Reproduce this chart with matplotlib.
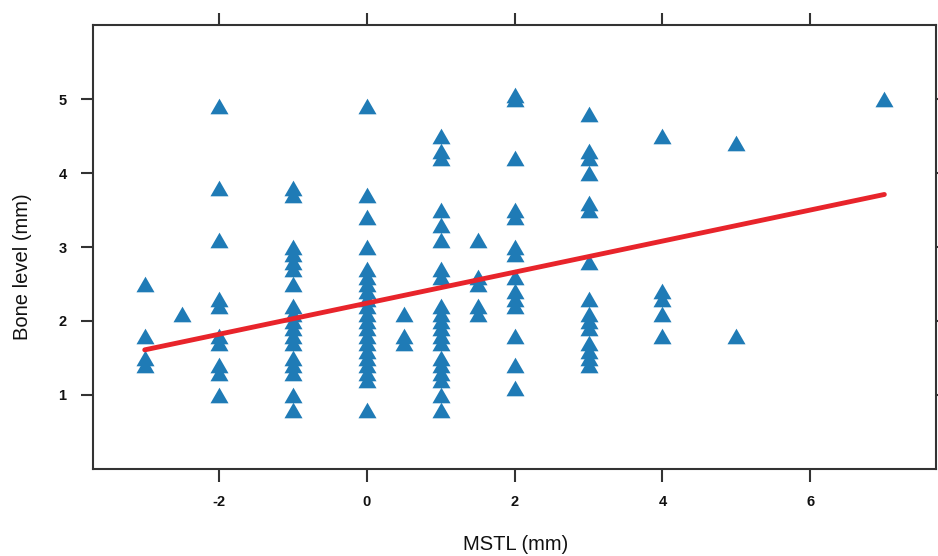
import numpy as np
import matplotlib
matplotlib.use("Agg")
import matplotlib.pyplot as plt
from matplotlib.path import Path

# MSTL values (mm) and the bone level readings (mm) found at each of them
mstl_levels = [-3, -2.5, -2, -1, 0, 0.5, 1, 1.5, 2, 3, 4, 5, 7]
bone_by_mstl = [
    [2.5, 1.8, 1.5, 1.4],
    [2.1],
    [4.9, 3.8, 3.1, 2.3, 2.2, 1.8, 1.7, 1.4, 1.3, 1.0],
    [3.8, 3.7, 3.0, 2.9, 2.8, 2.7, 2.5, 2.2, 2.1, 2.0, 1.9, 1.8, 1.7,
     1.5, 1.4, 1.3, 1.0, 0.8],
    [4.9, 3.7, 3.4, 3.0, 2.7, 2.6, 2.5, 2.4, 2.3, 2.2, 2.1, 2.0, 1.9,
     1.8, 1.7, 1.6, 1.5, 1.4, 1.3, 1.2, 0.8],
    [2.1, 1.8, 1.7],
    [4.5, 4.3, 4.2, 3.5, 3.3, 3.1, 2.7, 2.6, 2.2, 2.1, 2.0, 1.9, 1.8,
     1.7, 1.5, 1.4, 1.3, 1.2, 1.0, 0.8],
    [3.1, 2.6, 2.5, 2.2, 2.1],
    [5.05, 5.0, 4.2, 3.5, 3.4, 3.0, 2.9, 2.6, 2.4, 2.3, 2.2, 1.8, 1.4, 1.1],
    [4.8, 4.3, 4.2, 4.0, 3.6, 3.5, 2.8, 2.3, 2.1, 2.0, 1.9, 1.7, 1.6,
     1.5, 1.4],
    [4.5, 2.4, 2.3, 2.1, 1.8],
    [4.4, 1.8],
    [5.0],
]

# least squares line
fit_intercept = 2.24
fit_slope = 0.21

x_ticks = [-2, 0, 2, 4, 6]
y_ticks = [1, 2, 3, 4, 5]

x = np.concatenate([[m] * len(b) for m, b in zip(mstl_levels, bone_by_mstl)])
y = np.concatenate([np.array(b, dtype=float) for b in bone_by_mstl])

plt.rcParams["font.family"] = ["Liberation Sans", "DejaVu Sans"]

# equilateral triangle, like R's pch = 17
tri = Path([(0, 0.866), (-1, -0.866), (1, -0.866), (0, 0.866)],
           [Path.MOVETO, Path.LINETO, Path.LINETO, Path.CLOSEPOLY])

fig = plt.figure(figsize=(9.38, 5.56), dpi=100)
ax = fig.add_axes([0.0991, 0.1565, 0.8989, 0.7985])

ax.plot(x, y, linestyle="none", marker=tri, markersize=13,
        color="#1f7bb6", markeredgewidth=0, zorder=2)

xs = np.array([x.min(), x.max()])
ax.plot(xs, fit_intercept + fit_slope * xs, color="#e8242b",
        linewidth=3.5, solid_capstyle="round", zorder=3)

ax.set_xlim(-3.7, 7.7)
ax.set_ylim(0, 6)
ax.set_xticks(x_ticks)
ax.set_yticks(y_ticks)
ax.set_xticklabels([str(t) for t in x_ticks])

for sp in ax.spines.values():
    sp.set_linewidth(1.5)
    sp.set_color("#333333")
ax.tick_params(direction="out", length=9, width=1.5, color="#333333",
               top=True, right=True, labeltop=False, labelright=False,
               labelsize=10.5, pad=10, labelcolor="#111111")
for lab in ax.get_xticklabels() + ax.get_yticklabels():
    lab.set_fontweight("bold")

fig.text(516 / 938, 1 - 545 / 556, "MSTL (mm)", ha="center", va="center",
         fontsize=14.5, color="#111111")
fig.text(22 / 938, 1 - 267 / 556, "Bone level (mm)", ha="center", va="center",
         rotation=90, fontsize=14.5, color="#111111")

fig.savefig("out.png", dpi=100)
